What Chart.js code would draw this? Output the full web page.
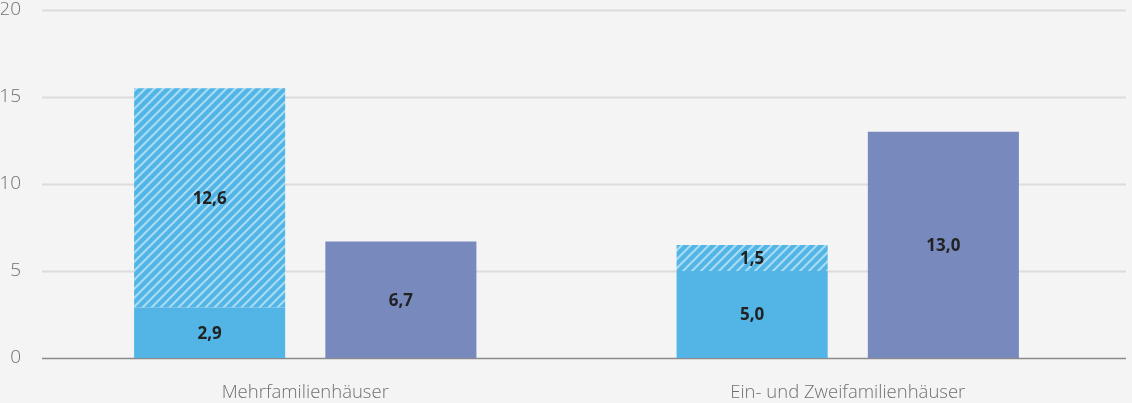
<!DOCTYPE html>
<html>
<head>
<meta charset="utf-8">
<script src="https://cdn.jsdelivr.net/npm/chart.js@4"></script>
<style>
  html, body { margin: 0; padding: 0; background: #f4f4f4; }
  #wrap { width: 1132px; height: 403px; }
</style>
</head>
<body>
<div id="wrap"><canvas id="chart" width="1132" height="403"></canvas></div>
<script>
// chart values
const categories = ['Mehrfamilienhäuser', 'Ein- und Zweifamilienhäuser'];
const solidPart = [2.9, 5.0];
const hatchedPart = [12.6, 1.5];
const secondBar = [6.7, 13.0];
const yTicks = [0, 5, 10, 15, 20];

const lightBlue = '#52b5e6';
const purple = '#788abd';

// diagonal stripe fill for the hatched segment
function makeHatch() {
    const size = 9;
    const c = document.createElement('canvas');
    c.width = size;
    c.height = size;
    const g = c.getContext('2d');
    g.fillStyle = lightBlue;
    g.fillRect(0, 0, size, size);
    g.strokeStyle = '#a6dcf3';
    g.lineWidth = 2.2;
    g.beginPath();
    g.moveTo(-2, size + 2); g.lineTo(size + 2, -2);
    g.moveTo(-2, 2); g.lineTo(2, -2);
    g.moveTo(size - 2, size + 2); g.lineTo(size + 2, size - 2);
    g.stroke();
    return g.createPattern(c, 'repeat');
}

const fmt = v => v.toFixed(1).replace('.', ',');

// horizontal grid lines spanning a bit wider than the chart area
const gridPlugin = {
    id: 'gridLines',
    beforeDatasetsDraw(chart) {
        const { ctx, scales: { y } } = chart;
        ctx.save();
        yTicks.forEach(t => {
            const py = Math.round(y.getPixelForValue(t)) + 0.5;
            ctx.strokeStyle = t === 0 ? '#8a8a8a' : '#dcdcdc';
            ctx.lineWidth = t === 0 ? 1.5 : 2;
            ctx.beginPath();
            ctx.moveTo(42, py);
            ctx.lineTo(1126, py);
            ctx.stroke();
        });
        ctx.restore();
    }
};

// value labels centred in each bar segment
const labelPlugin = {
    id: 'valueLabels',
    afterDatasetsDraw(chart) {
        const { ctx } = chart;
        ctx.save();
        ctx.font = 'bold 17px "Open Sans", sans-serif';
        ctx.fillStyle = '#222222';
        ctx.textAlign = 'center';
        ctx.textBaseline = 'middle';
        chart.data.datasets.forEach((ds, i) => {
            chart.getDatasetMeta(i).data.forEach((bar, j) => {
                const mid = (bar.y + bar.base) / 2;
                ctx.fillText(fmt(ds.data[j]), bar.x, mid + 1);
            });
        });
        ctx.restore();
    }
};

const ctx = document.getElementById('chart').getContext('2d');
new Chart(ctx, {
    type: 'bar',
    data: {
        labels: categories,
        datasets: [
            {
                label: 'solid',
                data: solidPart,
                backgroundColor: lightBlue,
                stack: 'a'
            },
            {
                label: 'hatched',
                data: hatchedPart,
                backgroundColor: makeHatch(),
                stack: 'a'
            },
            {
                label: 'second',
                data: secondBar,
                backgroundColor: purple,
                stack: 'b'
            }
        ]
    },
    options: {
        responsive: false,
        animation: false,
        categoryPercentage: 0.705,
        barPercentage: 0.79,
        layout: {
            autoPadding: false,
            padding: { top: 10, right: 13, left: 1, bottom: 0 }
        },
        plugins: {
            legend: { display: false },
            tooltip: { enabled: false }
        },
        scales: {
            x: {
                stacked: true,
                grid: { display: false },
                border: { display: false },
                ticks: {
                    color: '#707070',
                    padding: 16,
                    font: { family: '"Open Sans", sans-serif', size: 18.5, weight: 300 }
                },
                afterFit(scale) {
                    scale.height = 45;
                    scale.paddingLeft = 0;
                    scale.paddingRight = 0;
                }
            },
            y: {
                stacked: true,
                min: 0,
                max: 20,
                grid: { display: false },
                border: { display: false },
                afterBuildTicks(scale) {
                    scale.ticks = yTicks.map(v => ({ value: v }));
                },
                ticks: {
                    color: '#707070',
                    padding: 5,
                    font: { family: '"Open Sans", sans-serif', size: 19, weight: 300 }
                },
                afterFit(scale) {
                    scale.width = 33;
                    scale.paddingTop = 0;
                    scale.paddingBottom = 0;
                }
            }
        }
    },
    plugins: [gridPlugin, labelPlugin]
});
</script>
</body>
</html>
